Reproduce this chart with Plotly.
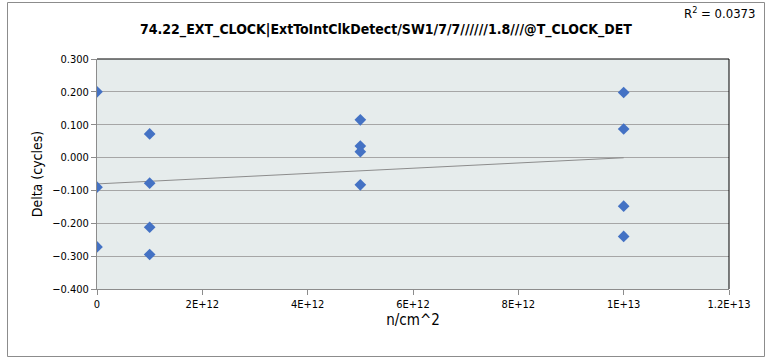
import numpy as np
import plotly.graph_objects as go

# Data
fluence = [0, 0, 0,
           1e12, 1e12, 1e12, 1e12,
           5e12, 5e12, 5e12, 5e12,
           1e13, 1e13, 1e13, 1e13]
delta = [0.200, -0.090, -0.272,
         0.072, -0.078, -0.212, -0.295,
         0.115, 0.035, 0.018, -0.083,
         0.198, 0.087, -0.148, -0.240]
x_ticks = [0, 2e12, 4e12, 6e12, 8e12, 1e13, 1.2e13]
x_tick_labels = ["0", "2E+12", "4E+12", "6E+12", "8E+12", "1E+13", "1.2E+13"]
y_ticks = [-0.4, -0.3, -0.2, -0.1, 0.0, 0.1, 0.2, 0.3]
title = "74.22_EXT_CLOCK|ExtToIntClkDetect/SW1/7/7//////1.8///@T_CLOCK_DET"
r2_text = "R<sup>2</sup> = 0.0373"

# linear trendline from data
xa = np.array(fluence)
ya = np.array(delta)
slope, intercept = np.polyfit(xa, ya, 1)
tx = [xa.min(), xa.max()]
ty = [intercept + slope * v for v in tx]

FONT = "Liberation Sans Narrow, Arial Narrow, DejaVu Sans Condensed, sans-serif"

fig = go.Figure()
fig.add_trace(go.Scatter(x=tx, y=ty, mode="lines",
                         line=dict(color="#8c8c8c", width=1),
                         hoverinfo="skip", showlegend=False))
fig.add_trace(go.Scatter(x=fluence, y=delta, mode="markers",
                         marker=dict(symbol="diamond", size=9, color="#4472C4",
                                     line=dict(width=0)),
                         showlegend=False))

W, H = 765, 359
L, R, T, B = 97, 729, 59, 289
pw, ph = R - L, B - T

def px(x):
    return (x - L) / pw

def py(y):
    return (B - y) / ph

fig.update_layout(
    width=W, height=H,
    margin=dict(l=L, r=W - R, t=T, b=H - B, pad=0),
    paper_bgcolor="white",
    plot_bgcolor="#E6ECEC",
    font=dict(family=FONT, color="#000000", size=11),
    showlegend=False,
    title=dict(text="<b>" + title + "</b>", xref="container", x=386 / W, xanchor="center",
               yref="container", y=1 - 29 / H, yanchor="middle",
               font=dict(family=FONT, size=14, color="#000000")),
    xaxis=dict(range=[0, 1.2e13], tickmode="array", tickvals=x_ticks,
               ticktext=x_tick_labels, showgrid=False, zeroline=False,
               showline=True, linecolor="#8c8c8c", linewidth=1,
               ticks="outside", ticklen=5, tickcolor="#8c8c8c",
               tickfont=dict(size=11, family=FONT),
               title=dict(text="n/cm^2", font=dict(size=15, family=FONT), standoff=2)),
    yaxis=dict(range=[-0.4, 0.3], tickmode="array", tickvals=y_ticks,
               tickformat=".3f", showgrid=True, gridcolor="#A6A6A6", gridwidth=1,
               zeroline=False, showline=True, linecolor="#8c8c8c", linewidth=1,
               ticks="outside", ticklen=5, tickcolor="#8c8c8c",
               tickfont=dict(size=11, family=FONT),
               title=dict(text="Delta (cycles)", font=dict(size=14, family=FONT), standoff=6)),
    shapes=[
        # outer chart frame
        dict(type="rect", xref="paper", yref="paper",
             x0=px(7.5), x1=px(764.5), y0=py(356.5), y1=py(2.5),
             line=dict(color="#8c8c8c", width=1), fillcolor="rgba(0,0,0,0)", layer="below"),
        # plot-area top and right border
        dict(type="line", xref="paper", yref="paper", x0=0, x1=1, y0=1, y1=1,
             line=dict(color="#000000", width=1)),
        dict(type="line", xref="paper", yref="paper", x0=1, x1=1, y0=0, y1=1,
             line=dict(color="#000000", width=1)),
    ],
    annotations=[
        dict(text=r2_text, xref="paper", yref="paper", x=px(757), y=py(13),
             xanchor="right", yanchor="middle", showarrow=False,
             font=dict(family=FONT, size=13, color="#000000")),
    ],
)

fig.write_html("out.html", config={"displayModeBar": False},
               post_script="document.body.style.margin='0';document.body.style.overflow='hidden';")
